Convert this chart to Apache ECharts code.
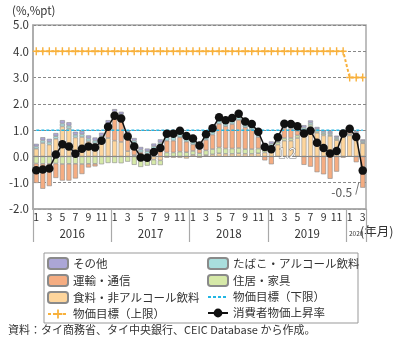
<!DOCTYPE html>
<html><head><meta charset="utf-8">
<script src="https://cdn.jsdelivr.net/npm/echarts@6/dist/echarts.min.js"></script>
<style>html,body{margin:0;padding:0;background:#fff}#c{width:400px;height:339px}</style>
</head><body><div id="c"></div>
<script>
const years = ['2016','2017','2018','2019','2020'];
const monthsPerYear = [12,12,12,12,3];
const yTicks = [-2,-1,0,1,2,3,4,5];

// contributions (%pt)
const food = [0.29,0.51,0.45,0.67,1.14,1.06,0.72,0.74,0.58,0.50,0.60,0.70,
  0.60,0.55,0.20,0.05,-0.15,-0.10,-0.12,-0.15,-0.05,-0.05,-0.05,-0.08,
  0.06,-0.05,0.05,0.08,0.12,0.10,0.10,0.12,0.10,0.10,0.12,0.15,
  0.30,0.45,0.60,0.60,0.70,0.94,1.12,0.90,0.80,0.78,0.62,0.75,
  0.80,0.80,0.50];
const housing = [-0.27,-0.28,-0.28,-0.27,-0.29,-0.28,-0.28,-0.29,-0.28,-0.28,-0.30,-0.25,
  -0.25,-0.26,-0.20,-0.32,-0.25,-0.25,-0.20,-0.18,0.15,0.15,0.18,0.16,
  0.15,0.12,0.18,0.20,0.22,0.20,0.20,0.20,0.18,0.18,0.18,0.15,
  0.10,0.10,0.10,0.10,0.10,0.08,0.08,0.07,0.06,0.05,0.05,0.05,
  0.05,0.04,0.03];
const transport = [-0.74,-0.95,-0.85,-0.55,-0.63,-0.64,-0.56,-0.38,-0.14,-0.10,0.08,0.46,
  1.00,0.95,0.56,0.45,0.16,0.10,0.27,0.40,0.45,0.45,0.55,0.40,
  0.25,0.15,0.40,0.55,0.90,0.85,0.93,1.07,0.83,0.74,0.44,-0.15,
  -0.30,0.01,0.37,0.36,0.18,-0.32,-0.39,-0.60,-0.68,-0.85,-0.58,-0.05,
  0.08,-0.22,-1.19];
const tobacco = [0.09,0.10,0.10,0.10,0.11,0.11,0.10,0.10,0.10,0.10,0.10,0.10,
  0.10,0.10,0.10,0.10,0.10,0.10,0.12,0.13,0.20,0.20,0.20,0.20,
  0.12,0.12,0.12,0.13,0.13,0.12,0.12,0.12,0.11,0.11,0.10,0.10,
  0.08,0.08,0.08,0.08,0.08,0.08,0.08,0.07,0.07,0.06,0.06,0.06,
  0.06,0.06,0.06];
const other = [0.10,0.12,0.12,0.12,0.13,0.13,0.12,0.12,0.12,0.12,0.12,0.12,
  0.10,0.10,0.10,0.10,0.10,0.10,0.10,0.12,0.11,0.11,0.10,0.10,
  0.10,0.08,0.09,0.11,0.12,0.11,0.11,0.11,0.11,0.10,0.10,0.11,
  0.09,0.09,0.09,0.09,0.09,0.09,0.09,0.08,0.07,0.07,0.06,0.06,
  0.06,0.06,0.06];
const cpi = [-0.53,-0.50,-0.46,0.07,0.46,0.38,0.10,0.29,0.38,0.34,0.60,1.13,
  1.55,1.44,0.76,0.38,-0.04,-0.05,0.17,0.32,0.86,0.86,0.98,0.78,
  0.68,0.42,0.84,1.07,1.49,1.38,1.46,1.62,1.33,1.23,0.94,0.36,
  0.27,0.73,1.24,1.23,1.15,0.87,0.98,0.52,0.32,0.11,0.21,0.87,
  1.05,0.74,-0.54];
const targetUpper = [4,4,4,4,4,4,4,4,4,4,4,4, 4,4,4,4,4,4,4,4,4,4,4,4,
  4,4,4,4,4,4,4,4,4,4,4,4, 4,4,4,4,4,4,4,4,4,4,4,4, 3,3,3];
const targetLower = [1,1,1,1,1,1,1,1,1,1,1,1, 1,1,1,1,1,1,1,1,1,1,1,1,
  1,1,1,1,1,1,1,1,1,1,1,1, 1,1,1,1,1,1,1,1,1,1,1,1, 1,1,1];

const names = {
  other:'その他', tobacco:'たばこ・アルコール飲料', transport:'運輸・通信',
  housing:'住居・家具', food:'食料・非アルコール飲料',
  lower:'物価目標（下限）', upper:'物価目標（上限）', cpi:'消費者物価上昇率'
};

const categories = [];
const monthOf = [];
years.forEach((y, k) => { for (let m = 1; m <= monthsPerYear[k]; m++) { categories.push(y + '-' + m); monthOf.push(m); } });

const FONT = 'Noto Sans CJK JP';
const chart = echarts.init(document.getElementById('c'), null, {renderer:'canvas'});

function barSeries(name, data, color, extra) {
  return Object.assign({
    name, type:'bar', stack:'c', data, barWidth:5,
    itemStyle:{color, borderColor:'#8a8a8a', borderWidth:0.6},
    emphasis:{disabled:true}
  }, extra || {});
}

const plusPath = 'path://M4,0H6V4H10V6H6V10H4V6H0V4H4Z';

const option = {
  animation:false,
  textStyle:{fontFamily:FONT},
  grid:{left:33, right:34, top:25, bottom:130, show:true, borderColor:'#a9a9a9', borderWidth:1.5, containLabel:false},
  legend:[
    {left:42, top:252, orient:'vertical', itemGap:4, itemWidth:20, itemHeight:11,
     textStyle:{fontSize:11.5, color:'#333', fontFamily:FONT, lineHeight:12},
     data:[names.other, names.transport, names.food, names.upper]},
    {left:202, top:252, orient:'vertical', itemGap:4, itemWidth:20, itemHeight:11,
     textStyle:{fontSize:11.5, color:'#333', fontFamily:FONT, lineHeight:12},
     data:[names.tobacco, names.housing, {name:names.lower, itemStyle:{opacity:0}}, names.cpi]}
  ],
  xAxis:{
    type:'category', data:categories, boundaryGap:true,
    axisLine:{onZero:false, lineStyle:{color:'#a9a9a9', width:1.5}},
    axisTick:{show:true, length:33, lineStyle:{color:'#a9a9a9', width:1.2},
      interval:(i) => monthOf[i] === 1},
    axisLabel:{interval:0, margin:3, fontSize:10.5, color:'#333', fontFamily:FONT,
      formatter:(v, i) => (monthOf[i] % 2 === 1 ? String(monthOf[i]) : '')}
  },
  yAxis:{
    type:'value', min:yTicks[0], max:yTicks[yTicks.length-1], interval:1,
    axisLine:{show:true, lineStyle:{color:'#a9a9a9', width:1.5}},
    axisTick:{show:false},
    axisLabel:{fontSize:11.5, color:'#333', margin:4, fontFamily:FONT, formatter:v => v.toFixed(1)},
    splitLine:{show:true, lineStyle:{color:'#888', type:[3,2], width:1}}
  },
  series:[
    barSeries(names.food, food, '#fdd59c', {
      markLine:{silent:true, symbol:'none', label:{show:false}, animation:false,
        lineStyle:{color:'#888', type:'solid', width:1}, data:[{yAxis:0}]}
    }),
    barSeries(names.housing, housing, '#d6e9a8'),
    barSeries(names.transport, transport, '#f5ad82'),
    barSeries(names.tobacco, tobacco, '#a9dedd'),
    barSeries(names.other, other, '#aba6d6'),
    {name:names.lower, type:'line', data:targetLower, symbol:'none', z:3,
     lineStyle:{color:'#22b6e3', width:1.5, type:[3,2]}, itemStyle:{color:'#22b6e3'}},
    {name:names.upper, type:'line', data:targetUpper, symbol:plusPath, symbolSize:[7,8], z:3,
     lineStyle:{color:'#f8b13c', width:2, type:[3,2]}, itemStyle:{color:'#f8b13c'}},
    {name:names.cpi, type:'line', data:cpi, symbol:'circle', symbolSize:8.5, z:5,
     lineStyle:{color:'#111', width:1.5}, itemStyle:{color:'#111'}}
  ]
};
chart.setOption(option);

// year labels and annotations positioned via the chart's own scale
const gfx = [];
let start = 0;
years.forEach((y, k) => {
  const end = start + monthsPerYear[k] - 1;
  const cx = (chart.convertToPixel({xAxisIndex:0}, start) + chart.convertToPixel({xAxisIndex:0}, end)) / 2;
  const small = monthsPerYear[k] < 6;
  gfx.push({type:'text', x:cx, y:234, style:{text:y, font:(small ? '6.5px ' : '11.5px ') + FONT,
    fill:'#333', align:'center', verticalAlign:'middle'}});
  start = end + 1;
});
const cpiIdx = 7;
const p1 = chart.convertToPixel({seriesIndex:cpiIdx}, [38, cpi[38]]);
gfx.push({type:'text', x:p1[0] + 3, y:p1[1] + 29, z:20, style:{text:'1.2', font:'13px ' + FONT,
  fill:'#ffffff', stroke:'#777', lineWidth:1, align:'center', verticalAlign:'middle'}});
const last = cpi.length - 1;
const p2 = chart.convertToPixel({seriesIndex:cpiIdx}, [last, cpi[last]]);
gfx.push({type:'text', x:p2[0] - 21, y:p2[1] + 22, z:20, style:{text:'-0.5', font:'12px ' + FONT,
  fill:'#555', align:'center', verticalAlign:'middle'}});
gfx.push({type:'line', z:20, shape:{x1:p2[0] - 7, y1:p2[1] + 24, x2:p2[0] - 4, y2:p2[1] + 12},
  style:{stroke:'#777', lineWidth:1}});
gfx.push({type:'text', left:12, top:5, style:{text:'(%,%pt)', font:'11.5px ' + FONT, fill:'#333'}});
gfx.push({type:'text', left:360, top:225, style:{text:'(年月)', font:'12.5px ' + FONT, fill:'#333'}});
gfx.push({type:'rect', shape:{x:44, y:253, width:314, height:70}, style:{fill:'none', stroke:'#999', lineWidth:1}, z:-1});
gfx.push({type:'text', left:8, top:324, style:{text:'資料：タイ商務省、タイ中央銀行、CEIC Database から作成。', font:'11px ' + FONT, fill:'#333'}});
chart.setOption({graphic:gfx});
</script>
</body></html>
